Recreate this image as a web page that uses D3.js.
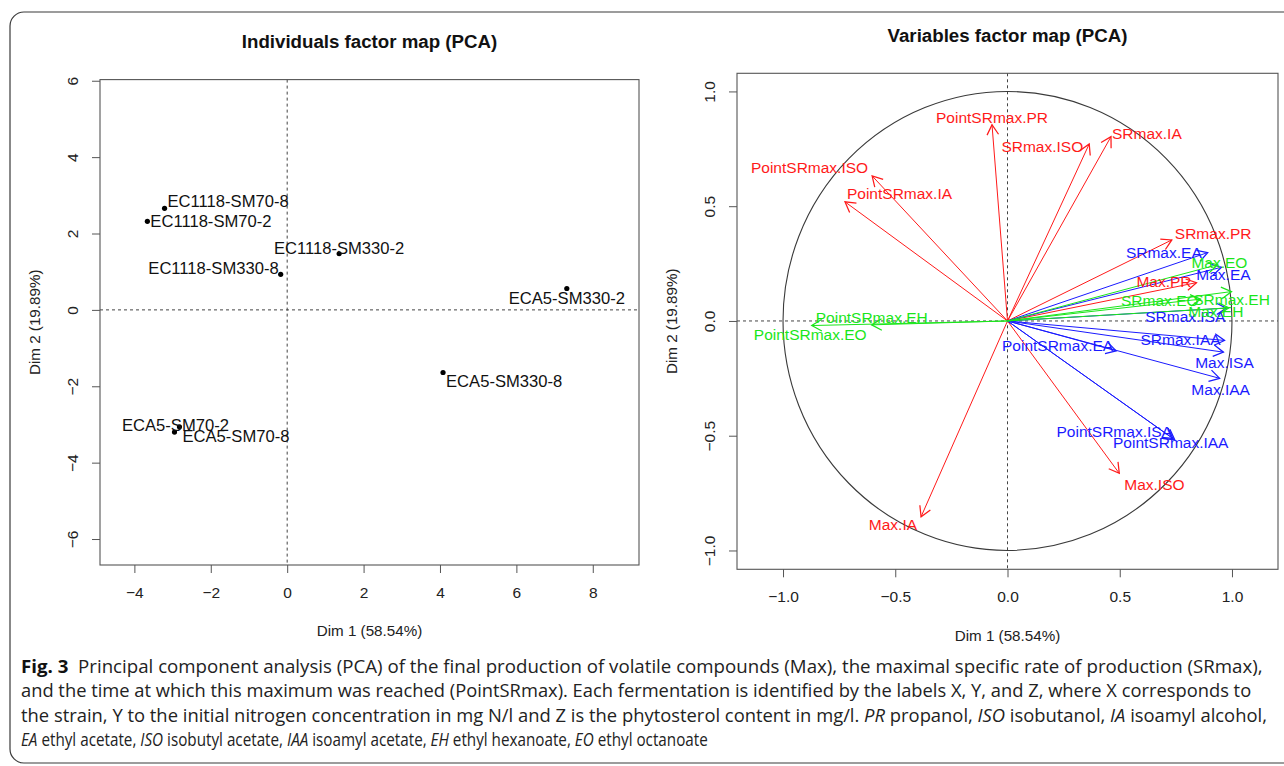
<!DOCTYPE html>
<html><head><meta charset="utf-8">
<script src="https://cdn.jsdelivr.net/npm/d3@7"></script>
<style>body{margin:0;background:#fff} svg{display:block}</style>
</head><body><svg id="c" width="1284" height="766"></svg>
<script>
// ---------- DATA ----------
const indNames = ["EC1118-SM70-8","EC1118-SM70-2","EC1118-SM330-2","EC1118-SM330-8","ECA5-SM330-2","ECA5-SM330-8","ECA5-SM70-2","ECA5-SM70-8"];
const indDim1 = [-3.21,-3.66,1.36,-0.17,7.32,4.08,-2.82,-2.95];
const indDim2 = [2.66,2.32,1.47,0.93,0.56,-1.64,-3.06,-3.20];

const varNames = ["Max.PR","Max.ISO","Max.IA","SRmax.PR","SRmax.ISO","SRmax.IA","PointSRmax.PR","PointSRmax.ISO","PointSRmax.IA",
  "Max.EA","Max.ISA","Max.IAA","SRmax.EA","SRmax.ISA","SRmax.IAA","PointSRmax.EA","PointSRmax.ISA","PointSRmax.IAA",
  "Max.EH","Max.EO","SRmax.EH","SRmax.EO","PointSRmax.EH","PointSRmax.EO"];
const varDim1 = [0.842,0.498,-0.385,0.732,0.364,0.461,-0.069,-0.603,-0.724,
  0.953,0.962,0.945,0.892,0.975,0.967,0.484,0.737,0.745,
  0.986,0.935,0.998,0.860,-0.872,-0.605];
const varDim2 = [0.167,-0.664,-0.853,0.353,0.771,0.803,0.855,0.632,0.519,
  0.234,-0.136,-0.250,0.298,0.056,-0.085,-0.130,-0.512,-0.518,
  0.057,0.245,0.128,0.095,-0.020,-0.017];
const varGroup = ["alcohol","alcohol","alcohol","alcohol","alcohol","alcohol","alcohol","alcohol","alcohol",
  "acetate","acetate","acetate","acetate","acetate","acetate","acetate","acetate","acetate",
  "ester","ester","ester","ester","ester","ester"];

const indXTicks = [-4,-2,0,2,4,6,8];
const indYTicks = [-6,-4,-2,0,2,4,6];
const varTicks = [-1,-0.5,0,0.5,1];

const titleInd = "Individuals factor map (PCA)";
const titleVar = "Variables factor map (PCA)";
const xTitle = "Dim 1 (58.54%)";
const yTitle = "Dim 2 (19.89%)";

// ---------- LAYOUT (positions / styles) ----------
const groupColor = {alcohol:"#FF1A1A", acetate:"#1A1AFF", ester:"#1AE61A"};
// label placement relative to mark: [anchor, dx, dy]
const indLabelPos = [["start",3,-7],["start",3,0],["middle",0,-6],["end",-2,-6],["middle",0,10],["start",3,9],["middle",-4,-2],["start",8,4]];
const varLabelPos = [["end",-5,-1],["start",5,11],["end",-4,8],["start",3,-7],["end",-6,2],["start",1,-3],["middle",0,-7],["end",-4,-8],["start",2,-8],
  ["middle",2,7],["middle",1,10],["middle",1,11],["end",-6,0],["end",-1,8],["end",-4,-1],["end",-3,-5],["end",-1,-7],["middle",-4,3],
  ["middle",-13,4],["middle",2,-2],["middle",0,8],["end",-2,1],["start",4,-8],["end",-5,10]];

const svg = d3.select("#c");
const FONT = "'Liberation Sans', Arial, Helvetica, sans-serif";

// Figure frame
svg.append("rect").attr("x",10).attr("y",12).attr("width",1300).attr("height",751)
  .attr("rx",14).attr("ry",14).attr("fill","none").attr("stroke","#3a3a3a").attr("stroke-width",1.2);

function panel(box, xDom, yDom, xt, yt, fmt, title) {
  const x = d3.scaleLinear().domain(xDom).range([box.x0, box.x1]);
  const y = d3.scaleLinear().domain(yDom).range([box.y1, box.y0]);
  const g = svg.append("g");
  g.append("line").attr("x1",x(0)).attr("x2",x(0)).attr("y1",box.y0).attr("y2",box.y1)
    .attr("stroke","#444").attr("stroke-dasharray","3,3");
  g.append("line").attr("x1",box.x0).attr("x2",box.x1).attr("y1",y(0)).attr("y2",y(0))
    .attr("stroke","#444").attr("stroke-dasharray","3,3");
  g.append("rect").attr("x",box.x0).attr("y",box.y0).attr("width",box.x1-box.x0).attr("height",box.y1-box.y0)
    .attr("fill","none").attr("stroke","#555").attr("stroke-width",1.1);
  const ax = g.append("g").attr("transform",`translate(0,${box.y1})`)
    .call(d3.axisBottom(x).tickValues(xt).tickFormat(fmt).tickSize(8).tickSizeOuter(0).tickPadding(14));
  ax.select(".domain").remove();
  ax.selectAll("line").attr("stroke","#555");
  ax.selectAll("text").attr("font-family",FONT).attr("font-size",15.5).attr("fill","#222");
  const ay = g.append("g").attr("transform",`translate(${box.x0},0)`)
    .call(d3.axisLeft(y).tickValues(yt).tickFormat(fmt).tickSize(8).tickSizeOuter(0));
  ay.select(".domain").remove();
  ay.selectAll("line").attr("stroke","#555");
  ay.selectAll("text").attr("x",null).attr("dy",null).attr("text-anchor","middle")
    .attr("transform","translate(-22.5,0) rotate(-90)")
    .attr("font-family",FONT).attr("font-size",15.5).attr("fill","#222");
  g.append("text").attr("x",(box.x0+box.x1)/2).attr("y",box.y0-38+6.7).attr("text-anchor","middle")
    .attr("font-family",FONT).attr("font-weight","bold").attr("font-size",18.7).attr("fill","#111").text(title);
  g.append("text").attr("x",(box.x0+box.x1)/2).attr("y",box.y1+66+5.4).attr("text-anchor","middle")
    .attr("font-family",FONT).attr("font-size",15.2).attr("fill","#222").text(xTitle);
  g.append("text").attr("transform",`translate(${box.x0-65+5.4},${(box.y0+box.y1)/2}) rotate(-90)`)
    .attr("text-anchor","middle").attr("font-family",FONT).attr("font-size",15.2).attr("fill","#222").text(yTitle);
  return {x,y,g};
}

// ---------- Individuals ----------
const P1 = panel({x0:100,x1:639,y0:79.6,y1:565}, [-4.9,9.21], [-6.68,6.03], indXTicks, indYTicks,
  d => d3.format("d")(d), titleInd);
const inds = indNames.map((n,i)=>({n, a:indDim1[i], b:indDim2[i], p:indLabelPos[i]}));
P1.g.selectAll("circle.pt").data(inds).join("circle").attr("class","pt")
  .attr("cx",d=>P1.x(d.a)).attr("cy",d=>P1.y(d.b)).attr("r",2.6).attr("fill","#000");
P1.g.selectAll("text.lab").data(inds).join("text").attr("class","lab")
  .attr("x",d=>P1.x(d.a)+d.p[1]).attr("y",d=>P1.y(d.b)+d.p[2]).attr("dy","0.36em")
  .attr("text-anchor",d=>d.p[0]).attr("font-family",FONT).attr("font-size",16.6).attr("fill","#111")
  .text(d=>d.n);

// ---------- Variables ----------
const P2 = panel({x0:737,x1:1278,y0:73.3,y1:569.3}, [-1.205,1.205], [-1.082,1.079], varTicks, varTicks,
  d => d3.format(".1f")(d), titleVar);
P2.g.append("ellipse").attr("cx",P2.x(0)).attr("cy",P2.y(0))
  .attr("rx",P2.x(1)-P2.x(0)).attr("ry",P2.y(0)-P2.y(1))
  .attr("fill","none").attr("stroke","#3a3a3a").attr("stroke-width",1.1);

const defs = svg.append("defs");
Object.entries(groupColor).forEach(([k,c])=>{
  defs.append("marker").attr("id","arr-"+k).attr("markerUnits","userSpaceOnUse")
    .attr("markerWidth",20).attr("markerHeight",20).attr("refX",0).attr("refY",0)
    .attr("viewBox","-12 -8 14 16").attr("orient","auto")
    .append("path").attr("d","M-8,-4.6 L0,0 L-8,4.6").attr("fill","none").attr("stroke",c).attr("stroke-width",1);
});
const vars = varNames.map((n,i)=>({n, a:varDim1[i], b:varDim2[i], grp:varGroup[i], p:varLabelPos[i]}));
P2.g.selectAll("line.arrow").data(vars).join("line").attr("class","arrow")
  .attr("x1",P2.x(0)).attr("y1",P2.y(0)).attr("x2",d=>P2.x(d.a)).attr("y2",d=>P2.y(d.b))
  .attr("stroke",d=>groupColor[d.grp]).attr("stroke-width",1)
  .attr("marker-end",d=>`url(#arr-${d.grp})`);
P2.g.selectAll("text.vlab").data(vars).join("text").attr("class","vlab")
  .attr("x",d=>P2.x(d.a)+d.p[1]).attr("y",d=>P2.y(d.b)+d.p[2]).attr("dy","0.36em")
  .attr("text-anchor",d=>d.p[0]).attr("font-family",FONT).attr("font-size",15.5).attr("fill",d=>groupColor[d.grp])
  .text(d=>d.n);

// ---------- Caption ----------
const capFont = "'Open Sans','Noto Sans','Liberation Sans',sans-serif";
const capLines = [
  {y:673, w:1242, parts:[["Fig. 3","b"],["  Principal component analysis (PCA) of the final production of volatile compounds (Max), the maximal specific rate of production (SRmax),",""]]},
  {y:697, w:1231, parts:[["and the time at which this maximum was reached (PointSRmax). Each fermentation is identified by the labels X, Y, and Z, where X corresponds to",""]]},
  {y:722, w:1247, parts:[["the strain, Y to the initial nitrogen concentration in mg N/l and Z is the phytosterol content in mg/l. ",""],["PR","i"],[" propanol, ",""],["ISO","i"],[" isobutanol, ",""],["IA","i"],[" isoamyl alcohol,",""]]},
  {y:746, w:687, parts:[["EA","i"],[" ethyl acetate, ",""],["ISO","i"],[" isobutyl acetate, ",""],["IAA","i"],[" isoamyl acetate, ",""],["EH","i"],[" ethyl hexanoate, ",""],["EO","i"],[" ethyl octanoate",""]]}
];
capLines.forEach(l=>{
  const t = svg.append("text").attr("x",0).attr("y",0).attr("font-family",capFont).attr("font-size",17.5)
    .attr("fill","#222").attr("xml:space","preserve").style("white-space","pre");
  l.parts.forEach(p=>{
    const s = t.append("tspan").text(p[0]);
    if (p[1]==="b") s.attr("font-weight","bold").attr("fill","#111");
    if (p[1]==="i") s.attr("font-style","italic");
  });
  const nat = t.node().getComputedTextLength();
  t.attr("transform",`translate(21,${l.y}) scale(${l.w/nat},1)`);
});
</script></body></html>
